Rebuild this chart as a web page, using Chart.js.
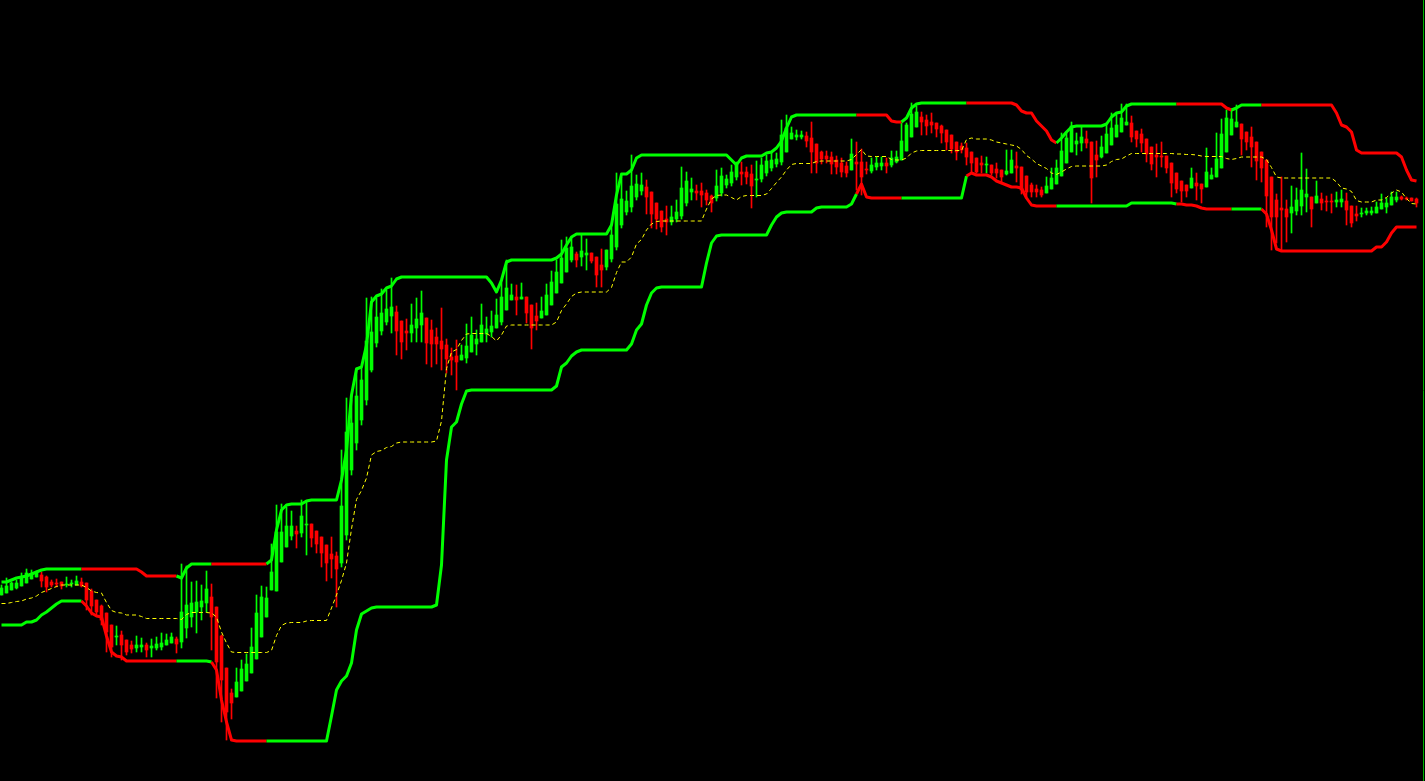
<!DOCTYPE html>
<html>
<head>
<meta charset="utf-8">
<script src="https://cdn.jsdelivr.net/npm/chart.js@4.4.1/dist/chart.umd.min.js"></script>
<style>
html, body { margin: 0; padding: 0; background: #000; overflow: hidden; }
#wrap { width: 1425px; height: 781px; }
</style>
</head>
<body>
<div id="wrap"><canvas id="chart" width="1425" height="781"></canvas></div>
<script>
// candles, one per bar (284 bars)
const open = [
  205,207,210,212,214,217,221,223,225,223, 218,217,218,215,216,215,218,217,209,200,
  194,187,175,163,165,160,155,152,153,155, 152,152,153,155,157,161,158,172,183,188,
  193,197,203,193,164,132,107,103,109,119, 127,141,163,183,210,209,238,253,264,269,
  267,275,276,269,263,255,246,244,237,265, 330,357,380,400,430,457,469,478,484,488,
  479,469,467,472,475,482,470,463,459,455, 443,444,440,442,448,456,458,466,468,472,
  478,490,500,503,501,503,495,484,482,485, 495,507,517,528,540,546,543,545,547,543,
  535,533,541,553,575,588,593,603,609,613, 608,597,589,581,578,581,584,597,608,609,
  609,607,604,602,607,615,617,623,628,628, 626,620,621,627,632,636,638,648,661,663,
  663,664,662,656,648,644,643,640,637,634, 630,638,638,631,629,633,634,637,635,638,
  640,649,663,673,683,680,678,677,674,670, 665,658,654,652,648,642,637,635,635,631,
  630,626,627,634,633,624,615,611,610,607, 611,616,624,637,648,656,657,661,658,645,
  643,647,655,663,668,675,677,669,666,661, 653,645,644,644,637,627,619,615,612,617,
  616,613,621,623,632,648,665,673,676,668, 663,658,648,640,623,600,592,591,587,589,
  594,603,603,597,601,599,599,598,598,599, 594,586,586,587,587,587,591,593,595,600,
  603,602,602,601
];
const high = [
  215,222,218,220,227,231,230,229,228,224, 220,221,218,223,220,224,222,217,211,200,
  195,187,175,174,169,160,159,164,162,157, 161,163,167,166,167,163,236,234,218,219,
  215,229,216,193,165,132,111,132,140,146, 172,205,214,213,256,295,296,293,289,274,
  300,298,276,269,263,255,263,248,350,402, 400,432,432,502,503,502,511,510,522,494,
  479,481,496,502,509,482,480,472,492,461, 452,460,455,476,483,470,496,483,489,501,
  520,540,516,515,517,503,495,497,503,516, 529,540,560,563,563,548,566,561,547,543,
  551,550,574,627,623,609,645,625,627,620, 608,597,589,594,594,600,633,628,622,615,
  617,610,605,630,632,625,635,638,638,633, 635,639,642,645,647,647,680,685,673,670,
  669,668,678,656,649,649,648,644,642,638, 661,658,651,638,642,643,643,642,649,649,
  677,677,697,694,688,685,687,677,675,670, 665,658,657,657,648,642,644,643,635,637,
  630,650,650,648,633,624,617,615,613,623, 632,640,667,668,678,667,673,669,658,659,
  664,677,687,687,696,696,684,669,671,661, 653,656,658,644,637,627,619,615,632,627,
  616,652,632,667,681,690,690,695,676,668, 673,658,648,640,623,606,623,600,614,612,
  647,631,603,619,607,604,606,608,610,607, 594,594,592,592,593,598,606,602,608,608,
  604,603,602,602
];
const low = [
  205,207,210,211,214,217,221,223,213,208, 213,213,211,213,213,215,213,190,185,185,
  175,148,143,155,140,145,147,148,148,143, 143,150,150,155,157,147,152,162,173,167,
  180,188,150,102,78,60,81,103,109,119, 127,141,163,183,210,209,238,253,260,252,
  263,245,253,247,233,219,222,193,233,260, 325,350,375,395,428,453,465,475,467,445,
  441,450,458,458,458,436,433,436,430,427, 425,410,440,437,448,445,458,458,463,472,
  475,490,500,485,501,477,451,470,482,485, 495,507,517,528,538,533,534,530,537,513,
  513,530,538,550,572,585,588,600,605,586, 572,571,568,565,575,578,581,594,600,600,
  593,595,588,599,604,612,614,620,615,616, 592,603,618,624,629,633,635,648,661,660,
  661,653,627,627,636,637,626,626,623,623, 630,610,605,626,627,630,630,627,633,637,
  640,649,663,673,665,665,667,663,657,650, 647,640,647,635,627,627,627,627,625,622,
  618,625,627,618,606,604,603,603,603,607, 611,616,624,637,648,645,649,652,597,623,
  642,647,655,663,668,675,658,653,648,638, 630,623,633,627,603,607,598,603,612,600,
  597,613,621,623,632,648,665,673,645,650, 633,620,618,573,550,557,550,558,567,585,
  585,588,573,597,590,589,587,593,593,575, 573,579,583,585,585,587,591,587,595,598,
  600,600,599,593
];
const close = [
  212,214,217,217,222,227,226,227,219,213, 215,216,214,216,217,219,214,200,194,188,
  180,168,153,164,155,148,151,155,155,150, 154,156,157,160,163,156,188,195,197,198,
  199,211,183,138,120,88,97,118,131,136, 153,187,203,202,228,268,268,274,274,266,
  284,276,262,256,247,237,241,231,294,368, 377,404,420,459,468,483,487,491,493,469,
  458,467,475,481,487,457,456,456,451,441, 440,438,445,454,465,461,475,471,474,485,
  503,512,505,500,503,487,472,479,489,505, 518,528,542,552,553,540,549,547,539,525,
  530,550,565,596,601,599,614,616,615,603, 586,581,573,578,583,588,612,619,611,607,
  605,600,597,614,624,621,628,635,626,623, 614,621,635,639,640,641,665,672,667,665,
  665,659,648,637,641,641,636,633,628,627, 646,636,623,630,635,637,637,634,642,643,
  659,675,686,688,678,674,675,671,667,658, 651,648,650,643,637,628,635,636,627,627,
  623,629,640,632,610,608,608,608,605,614, 622,632,649,662,674,659,663,657,622,640,
  653,666,672,675,682,678,663,661,657,646, 636,643,643,632,617,611,609,609,622,614,
  611,628,625,641,666,682,681,678,661,658, 653,639,632,604,583,583,590,583,593,600,
  610,606,591,604,597,598,598,600,601,590, 577,584,587,589,589,593,597,597,603,603,
  601,601,599,597
];

// channel lines
const upper = [
  218,218,220,222,223,224,226,228,230,231, 231,231,231,231,231,231,231,231,231,231,
  231,231,231,231,231,231,231,231,228,224, 224,224,224,224,224,224,222,232,236,236,
  236,236,236,236,236,236,236,236,236,236, 236,236,236,236,240,270,290,295,296,296,
  296,299,300,300,300,300,300,300,320,350, 405,431,433,455,498,504,506,512,514,521,
  523,523,523,523,523,523,523,523,523,523, 523,523,523,523,523,523,523,523,517,508,
  520,538,540,540,540,540,540,540,540,540, 540,542,546,555,563,566,566,566,566,566,
  566,566,575,605,626,626,630,642,645,645, 645,645,645,645,645,645,645,645,645,645,
  645,645,645,645,645,645,640,635,642,644, 644,644,644,647,648,652,659,672,683,685,
  685,685,685,685,685,685,685,685,685,685, 685,685,685,685,685,685,685,685,679,678,
  678,682,692,696,697,697,697,697,697,697, 697,697,697,697,697,697,697,697,697,697,
  697,697,697,695,689,687,687,679,674,669, 660,657,662,668,673,674,674,674,674,674,
  674,676,683,687,688,694,696,696,696,696, 696,696,696,696,696,696,696,696,696,696,
  696,696,696,696,696,692,690,692,695,695, 695,695,695,695,695,695,695,695,695,695,
  695,695,695,695,695,695,695,687,675,673, 668,650,647,647,647,647,647,647,647,647,
  643,630,620,619
];
const lower = [
  175,175,175,175,175,178,178,180,185,188, 192,196,199,199,199,199,199,194,187,184,
  183,164,148,144,143,139,139,139,139,139, 139,139,139,139,139,139,139,139,139,139,
  139,139,138,130,100,78,60,59,59,59, 59,59,59,59,59,59,59,59,59,59,
  59,59,59,59,59,59,84,110,119,124, 137,170,186,189,192,193,193,193,193,193,
  193,193,193,193,193,193,193,195,235,340, 373,378,396,409,410,410,410,410,410,410,
  410,410,410,410,410,410,410,410,410,410, 410,414,433,437,444,448,450,450,450,450,
  450,450,450,450,450,450,456,470,476,495, 507,512,513,513,513,513,513,513,513,513,
  513,537,557,564,565,565,565,565,565,565, 565,565,565,565,575,583,587,588,588,588,
  588,588,588,592,593,593,593,593,593,593, 596,606,616,603,602,602,602,602,602,602,
  602,602,602,602,602,602,602,602,602,602, 602,602,602,624,627,625,625,625,623,619,
  617,615,613,613,612,602,595,594,594,594, 594,594,594,594,594,594,594,594,594,594,
  594,594,594,594,594,594,597,597,597,597, 597,597,597,597,597,596,596,595,595,594,
  592,591,591,591,591,591,591,591,591,591, 591,591,591,586,570,551,549,549,549,549,
  549,549,549,549,549,549,549,549,549,549, 549,549,549,549,549,553,553,558,567,573,
  573,573,573,573
];
const middle = [
  196.5,196.5,197.5,198.5,199,201,202,204,207.5,209.5, 211.5,213.5,215,215,215,215,215,212.5,209,207.5,
  207,197.5,189.5,187.5,187,185,185,185,183.5,181.5, 181.5,181.5,181.5,181.5,181.5,181.5,180.5,185.5,187.5,187.5,
  187.5,187.5,187,183,168,157,148,147.5,147.5,147.5, 147.5,147.5,147.5,147.5,149.5,164.5,174.5,177,177.5,177.5,
  177.5,179,179.5,179.5,179.5,179.5,192,205,219.5,237, 271,300.5,309.5,322,345,348.5,349.5,352.5,353.5,357,
  358,358,358,358,358,358,358,359,379,431.5, 448,450.5,459.5,466,466.5,466.5,466.5,466.5,463.5,459,
  465,474,475,475,475,475,475,475,475,475, 475,478,489.5,496,503.5,507,508,508,508,508,
  508,508,512.5,527.5,538,538,543,556,560.5,570, 576,578.5,579,579,579,579,579,579,579,579,
  579,591,601,604.5,605,605,602.5,600,603.5,604.5, 604.5,604.5,604.5,606,611.5,617.5,623,630,635.5,636.5,
  636.5,636.5,636.5,638.5,639,639,639,639,639,639, 640.5,645.5,650.5,644,643.5,643.5,643.5,643.5,640.5,640,
  640,642,647,649,649.5,649.5,649.5,649.5,649.5,649.5, 649.5,649.5,649.5,660.5,662,661,661,661,660,658,
  657,656,655,654,650.5,644.5,641,636.5,634,631.5, 627,625.5,628,631,633.5,634,634,634,634,634,
  634,635,638.5,640.5,641,644,646.5,646.5,646.5,646.5, 646.5,646.5,646.5,646.5,646.5,646,646,645.5,645.5,645,
  644,643.5,643.5,643.5,643.5,641.5,640.5,641.5,643,643, 643,643,643,640.5,632.5,623,622,622,622,622,
  622,622,622,622,622,622,622,618,612,611, 608.5,599.5,598,598,598,600,600,602.5,607,610,
  608,601.5,596.5,596
];
// trend state of the channel: [number of bars, 1 up / -1 down]
const trendRuns = [[16,1],[19,-1],[7,1],[11,-1],[118,1],[9,-1],[13,1],[18,-1],[24,1],[11,-1],[6,1],[32,-1]];

const UP = '#00ff00';
const DOWN = '#ff0000';

const trend = [];
trendRuns.forEach(([n, dir]) => { for (let k = 0; k < n; k++) trend.push(dir); });

const idx = open.map((_, i) => i);
const candleColor = idx.map(i => close[i] >= open[i] ? UP : DOWN);
const bodies = idx.map(i => ({ x: i, y: [open[i], close[i]] }));
const wicks = idx.map(i => ({ x: i, y: [low[i], high[i]] }));
const asLine = arr => arr.map((v, i) => ({ x: i, y: v }));
const bandColor = ctx => trend[ctx.p0DataIndex] > 0 ? UP : DOWN;

// thin frame line on the right side
const rightEdge = {
  id: 'rightEdge',
  afterDraw(chart) {
    const { ctx, chartArea } = chart;
    ctx.save();
    ctx.strokeStyle = '#00b400';
    ctx.lineWidth = 1;
    ctx.beginPath();
    ctx.moveTo(chartArea.right - 1.5, chartArea.top);
    ctx.lineTo(chartArea.right - 1.5, chartArea.bottom);
    ctx.stroke();
    ctx.restore();
  }
};

new Chart(document.getElementById('chart'), {
  type: 'bar',
  data: {
    datasets: [
      { type: 'line', data: asLine(upper), borderColor: UP, borderWidth: 3, segment: { borderColor: bandColor },
        pointRadius: 0, borderJoinStyle: 'round', order: 0 },
      { type: 'line', data: asLine(lower), borderColor: UP, borderWidth: 3, segment: { borderColor: bandColor },
        pointRadius: 0, borderJoinStyle: 'round', order: 0 },
      { type: 'line', data: asLine(middle), borderColor: '#ffff00', borderWidth: 1, borderDash: [4, 3],
        pointRadius: 0, order: 1 },
      { data: bodies, backgroundColor: candleColor, borderWidth: 0, barThickness: 3, minBarLength: 1,
        grouped: false, order: 2 },
      { data: wicks, backgroundColor: candleColor, borderWidth: 0, barThickness: 1, minBarLength: 1,
        grouped: false, order: 3 }
    ]
  },
  options: {
    responsive: false,
    animation: false,
    devicePixelRatio: 1,
    layout: { padding: 0 },
    plugins: { legend: { display: false }, tooltip: { enabled: false } },
    scales: {
      x: { type: 'linear', min: -0.3, max: 284.7, offset: false, display: false },
      y: { min: 19, max: 800, display: false }
    }
  },
  plugins: [rightEdge]
});
</script>
</body>
</html>
